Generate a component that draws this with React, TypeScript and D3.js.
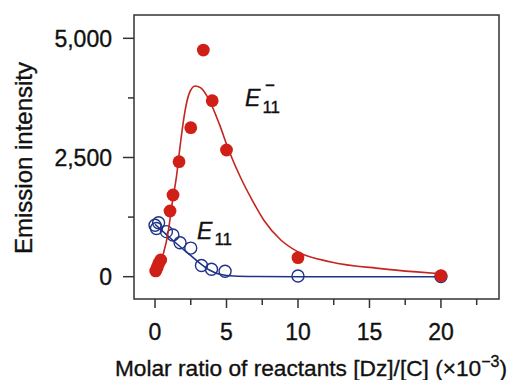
import React from "react";
import * as d3 from "d3";

// ---- data ----
const redX = [0.05, 0.15, 0.25, 0.4, 1.05, 1.26, 1.68, 2.5, 3.38, 4.0, 5.0, 10, 20];
const redY = [120, 190, 270, 350, 1378, 1713, 2412, 3125, 4754, 3691, 2657, 398, 20];

const blueX = [0, 0.1, 0.25, 0.8, 1.25, 1.75, 2.5, 3.25, 3.95, 4.9, 10, 20];
const blueY = [1080, 1010, 1130, 945, 874, 713, 600, 235, 155, 115, 15, 5];

const redFitX = [0, 0.3, 0.6, 0.9, 1.2, 1.5, 1.8, 2.1, 2.4, 2.8, 3.2, 3.8, 4.5, 5.2, 6.0, 6.7, 7.6, 8.8, 10, 12.3, 15.8, 18.3, 20];
const redFitY = [30, 220, 500, 900, 1540, 2100, 2850, 3480, 3850, 4000, 3960, 3700, 3200, 2620, 2070, 1660, 1190, 770, 520, 310, 170, 100, 60];

const blueFitX = [0, 0.7, 1.6, 2.4, 3.15, 3.8, 4.6, 5.5, 7, 10, 20];
const blueFitY = [1100, 910, 670, 470, 280, 140, 45, 15, 5, 0, 0];

const xMajor = [0, 5, 10, 15, 20];
const xMinor = [2.5, 7.5, 12.5, 17.5, 22.5];
const yMajor = [0, 2500, 5000];
const yMinor = [1250, 3750];

const xTitle = "Molar ratio of reactants [Dz]/[C] (×10";
const xTitleSup = "−3";
const yTitle = "Emission intensity";

const W = 520;
const H = 380;
const plot = { left: 134, right: 499, top: 15, bottom: 299 };

const RED = "#cf1f17";
const RED_LINE = "#c4251e";
const BLUE = "#1f3488";

export default function App() {
  const x = d3.scaleLinear().domain([-1.47, 24.06]).range([plot.left, plot.right]);
  const y = d3.scaleLinear().domain([-468, 5489]).range([plot.bottom, plot.top]);

  const redFit = redFitX.map((v, i) => [v, redFitY[i]] as [number, number]);
  const blueFit = blueFitX.map((v, i) => [v, blueFitY[i]] as [number, number]);

  const line = d3
    .line<[number, number]>()
    .x((d) => x(d[0]))
    .y((d) => y(d[1]))
    .curve(d3.curveMonotoneX);

  const font = "'Liberation Sans', Arial, Helvetica, sans-serif";
  const axisColor = "#333";
  const txt = { fill: "#111", stroke: "#111", strokeWidth: 0.35 };

  // annotation anchors in data coordinates
  const redLabel = { x: 6.3, y: 3580 };
  const blueLabel = { x: 2.94, y: 790 };

  return (
    <svg
      width={W}
      height={H}
      style={{ position: "absolute", left: 0, top: 0, background: "#fff" }}
      fontFamily={font}
    >
      <rect x={0} y={0} width={W} height={H} fill="#fff" />
      {/* frame */}
      <rect
        x={plot.left}
        y={plot.top}
        width={plot.right - plot.left}
        height={plot.bottom - plot.top}
        fill="none"
        stroke={axisColor}
        strokeWidth={1.5}
      />
      {/* y ticks */}
      {yMajor.map((v) => (
        <g key={"ym" + v}>
          <line x1={plot.left - 11} x2={plot.left} y1={y(v)} y2={y(v)} stroke={axisColor} strokeWidth={1.5} />
          <text x={plot.left - 22} y={y(v)} dy="0.36em" textAnchor="end" fontSize={23} {...txt}>
            {d3.format(",")(v)}
          </text>
        </g>
      ))}
      {yMinor.map((v) => (
        <line key={"yn" + v} x1={plot.left - 6} x2={plot.left} y1={y(v)} y2={y(v)} stroke={axisColor} strokeWidth={1.5} />
      ))}
      {/* x ticks */}
      {xMajor.map((v) => (
        <g key={"xm" + v}>
          <line x1={x(v)} x2={x(v)} y1={plot.bottom} y2={plot.bottom + 9} stroke={axisColor} strokeWidth={1.5} />
          <text x={x(v)} y={340} textAnchor="middle" fontSize={23} {...txt}>
            {v}
          </text>
        </g>
      ))}
      {xMinor.map((v) => (
        <line key={"xn" + v} x1={x(v)} x2={x(v)} y1={plot.bottom} y2={plot.bottom + 6} stroke={axisColor} strokeWidth={1.5} />
      ))}
      {/* axis titles */}
      <text x={311} y={376} textAnchor="middle" fontSize={22.7} {...txt}>
        {xTitle}
        <tspan fontSize={16} dy={-9}>{xTitleSup}</tspan>
        <tspan fontSize={22.7} dy={9}>)</tspan>
      </text>
      <text
        transform={`translate(32, 158) rotate(-90)`}
        textAnchor="middle"
        fontSize={24}
        {...txt}
      >
        {yTitle}
      </text>

      {/* blue series */}
      <path d={line(blueFit) || ""} fill="none" stroke={BLUE} strokeWidth={1.6} />
      {blueX.map((v, i) => (
        <circle key={"b" + i} cx={x(v)} cy={y(blueY[i])} r={6} fill="none" stroke={BLUE} strokeWidth={1.4} />
      ))}

      {/* red series */}
      <path d={line(redFit) || ""} fill="none" stroke={RED_LINE} strokeWidth={1.6} />
      {redX.map((v, i) => (
        <circle key={"r" + i} cx={x(v)} cy={y(redY[i])} r={6.4} fill={RED} />
      ))}

      {/* labels */}
      <text x={x(redLabel.x)} y={y(redLabel.y)} fontSize={23} {...txt}>
        <tspan fontStyle="italic">E</tspan>
        <tspan fontSize={17} dy={7} dx={2}>11</tspan>
      </text>
      <text x={x(redLabel.x) + 25} y={y(redLabel.y) - 15} textAnchor="middle" fontSize={17} {...txt}>
        −
      </text>
      <text x={x(blueLabel.x)} y={y(blueLabel.y)} fontSize={23} {...txt}>
        <tspan fontStyle="italic">E</tspan>
        <tspan fontSize={17} dy={6} dx={2}>11</tspan>
      </text>
    </svg>
  );
}
